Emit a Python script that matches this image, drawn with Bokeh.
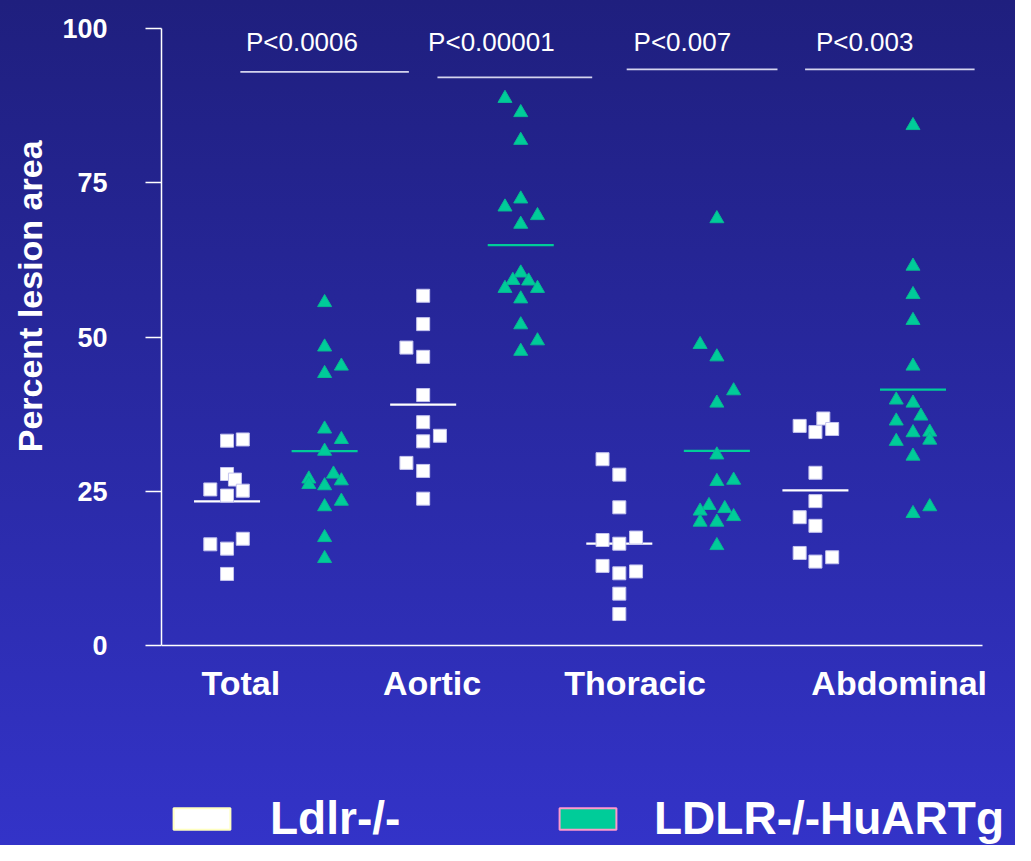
import numpy as np
from bokeh.plotting import figure
from bokeh.models import (ColumnDataSource, FixedTicker, Range1d, Legend,
                          LegendItem, Label)
from bokeh.core.properties import value
from bokeh.embed import file_html
from bokeh.resources import INLINE

# ------------------------------------------------------------------ data
categories = ["Total", "Aortic", "Thoracic", "Abdominal"]
series_names = ["Ldlr-/-", "LDLR-/-HuARTg"]

# Percent lesion area, Ldlr-/- mice (white squares)
ldlr_total = [33.2, 33.4, 27.8, 26.9, 25.3, 25.1, 24.3, 16.4, 15.7, 17.3, 11.6]
ldlr_aortic = [56.7, 52.1, 48.3, 46.8, 40.6, 36.2, 34.0, 33.1, 29.6, 28.3, 23.8]
ldlr_thoracic = [30.2, 27.7, 22.4, 17.1, 16.5, 17.5, 12.9, 11.7, 12.0, 8.4, 5.1]
ldlr_abdominal = [35.6, 36.8, 34.6, 35.1, 28.0, 23.4, 20.8, 19.4, 15.0, 13.6, 14.3]

# Percent lesion area, LDLR-/-HuARTg mice (green triangles)
huart_total = [55.6, 48.4, 45.3, 44.1, 35.1, 33.4, 31.5, 27.8, 27.0, 26.1,
               25.9, 26.7, 22.5, 23.4, 17.5, 14.1]
huart_aortic = [88.7, 86.4, 81.9, 72.4, 71.1, 69.7, 68.3, 60.4, 59.2, 59.1,
                57.9, 57.9, 56.2, 52.0, 49.4, 47.7]
huart_thoracic = [69.2, 48.8, 46.8, 41.3, 39.3, 30.9, 26.6, 26.8, 22.7, 21.8,
                  22.2, 20.9, 20.0, 20.0, 16.2]
huart_abdominal = [84.3, 61.5, 56.9, 52.7, 45.3, 39.8, 39.3, 36.4, 37.2, 34.5,
                   34.6, 33.3, 33.1, 30.7, 22.5, 21.4]

p_values = ["P<0.0006", "P<0.00001", "P<0.007", "P<0.003"]
y_ticks = [0, 25, 50, 75, 100]

# ------------------------------------------------------------ layout
# horizontal jitter of each dot (fraction of a slot), same order as data
ldlr_jitter = [
    [0, 0.16, 0, 0.08, -0.17, 0.16, 0, -0.17, 0, 0.16, 0],
    [0, 0, -0.17, 0, 0, 0, 0.17, 0, -0.17, 0, 0],
    [-0.17, 0, 0, -0.17, 0, 0.17, -0.17, 0, 0.17, 0, 0],
    [-0.16, 0.08, 0, 0.17, 0, 0, -0.16, 0, -0.16, 0, 0.17],
]
huart_jitter = [
    [0, 0, 0.17, 0, 0, 0.17, 0, 0.09, -0.16, -0.16, 0, 0.17, 0, 0.17, 0, 0],
    [-0.16, 0, 0, 0, -0.16, 0.17, 0, 0, -0.08, 0.08, -0.16, 0.17, 0, 0, 0.17, 0],
    [0, -0.17, 0, 0.17, 0, 0, 0, 0.17, -0.08, -0.17, 0.08, 0.17, -0.17, 0, 0],
    [0, 0, 0, 0, 0, -0.17, 0, -0.17, 0.08, 0, 0.17, 0.17, -0.17, 0, 0.17, 0],
]

SLOT0, CAT_STEP, SERIES_STEP, MEAN_HALF = 0.665, 1.99, 0.99, 0.335
X_AXIS_END = 8.33
cat_label_x = [0.805, 2.745, 4.805, 7.485]
p_text_x = [1.425, 3.347, 5.285, 7.135]
P_TEXT_Y = 97.9
p_line_x0 = [0.80, 2.80, 4.72, 6.53]
p_line_x1 = [2.51, 4.37, 6.25, 8.25]
p_line_y = [93.0, 92.1, 93.4, 93.4]

FONT = "Liberation Sans"
WHITE = "#ffffff"
GREEN = "#00cc99"

ldlr_data = [ldlr_total, ldlr_aortic, ldlr_thoracic, ldlr_abdominal]
huart_data = [huart_total, huart_aortic, huart_thoracic, huart_abdominal]


def build(series_data, jitter, s):
    xs, ys, mx0, mx1, my = [], [], [], [], []
    for i, (vals, jit) in enumerate(zip(series_data, jitter)):
        cx = SLOT0 + CAT_STEP * i + SERIES_STEP * s
        xs += [cx + j for j in jit]
        ys += list(vals)
        mx0.append(cx - MEAN_HALF)
        mx1.append(cx + MEAN_HALF)
        my.append(float(np.mean(vals)))
    pts = ColumnDataSource(dict(x=xs, y=ys))
    means = ColumnDataSource(dict(x0=mx0, x1=mx1, y=my))
    return pts, means


ldlr_pts, ldlr_means = build(ldlr_data, ldlr_jitter, 0)
huart_pts, huart_means = build(huart_data, huart_jitter, 1)

# ------------------------------------------------------------ figure
# The plot frame runs to the bottom and right edges; the x axis sits at
# y = 0 so the category names and the legend below it stay inside the frame.
p = figure(width=1015, height=845, output_backend="svg", toolbar_location=None,
           title=None, x_range=Range1d(0, 8.665), y_range=Range1d(-32.43, 104.57),
           min_border_left=161, min_border_right=0, min_border_top=0,
           min_border_bottom=0)
p.background_fill_color = None
p.border_fill_color = None
p.outline_line_color = None
p.styles = {"background": "linear-gradient(to bottom, #1f1f7e 0%, #3333c8 100%)"}
p.xgrid.grid_line_color = None
p.ygrid.grid_line_color = None

# y axis
ya = p.yaxis[0]
ya.ticker = FixedTicker(ticks=y_ticks, minor_ticks=[])
ya.bounds = (0, 100)
ya.axis_line_color = WHITE
ya.axis_line_width = 1.5
ya.major_tick_line_color = WHITE
ya.major_tick_line_width = 1.5
ya.major_tick_out = 16
ya.major_tick_in = 0
ya.minor_tick_line_color = None
ya.major_label_standoff = 38
ya.major_label_text_font = FONT
ya.major_label_text_font_size = "27px"
ya.major_label_text_font_style = "bold"
ya.major_label_text_color = WHITE

# x axis (category names), drawn at y = 0
xa = p.xaxis[0]
xa.fixed_location = 0
xa.bounds = (0, X_AXIS_END)
xa.ticker = FixedTicker(ticks=cat_label_x, minor_ticks=[])
xa.major_label_overrides = {x: c for x, c in zip(cat_label_x, categories)}
xa.axis_line_color = WHITE
xa.axis_line_width = 1.5
xa.major_tick_line_color = None
xa.minor_tick_line_color = None
xa.major_tick_out = 0
xa.major_tick_in = 0
xa.major_label_standoff = 19
xa.major_label_text_font = FONT
xa.major_label_text_font_size = "34px"
xa.major_label_text_font_style = "bold"
xa.major_label_text_color = WHITE

# y axis title (in the left side panel, so it is not clipped by the frame)
p.add_layout(Label(x=-1.33, y=56.6, text="Percent lesion area", angle=np.pi / 2,
                   text_align="center", text_baseline="middle", text_font=FONT,
                   text_font_size="34px", text_font_style="bold",
                   text_color=WHITE), "left")

# P-value brackets
p.segment(x0=p_line_x0, x1=p_line_x1, y0=p_line_y, y1=p_line_y,
          line_color="#d4d4ee", line_width=1.6)
p.text(x=p_text_x, y=[P_TEXT_Y] * len(p_values), text=p_values,
       text_font=value(FONT), text_font_size="26px", text_color=WHITE,
       text_align="center", text_baseline="alphabetic")

# means
p.segment(x0="x0", x1="x1", y0="y", y1="y", source=ldlr_means,
          line_color=WHITE, line_width=2.2)
p.segment(x0="x0", x1="x1", y0="y", y1="y", source=huart_means,
          line_color=GREEN, line_width=2.2)

# points
p.scatter("x", "y", source=ldlr_pts, marker="square", size=13,
          fill_color=WHITE, line_color="#c4c4ee", line_width=1)
p.scatter("x", "y", source=huart_pts, marker="triangle", size=14,
          fill_color=GREEN, line_color="#06b893", line_width=1)

# legend swatches: hidden helper renderers that only supply the legend glyph
swatch_src = ColumnDataSource(dict(l=[0], r=[0], t=[0], b=[0]))
sw_ldlr = p.quad(left="l", right="r", top="t", bottom="b", source=swatch_src,
                 fill_color=WHITE, line_color="#ffffc0", line_width=2,
                 visible=False)
sw_huart = p.quad(left="l", right="r", top="t", bottom="b", source=swatch_src,
                  fill_color=GREEN, line_color="#ff99cc", line_width=2,
                  visible=False)


def make_legend(label, renderer, loc, standoff):
    return Legend(items=[LegendItem(label=label, renderers=[renderer])],
                  location=loc, orientation="horizontal",
                  glyph_width=71, glyph_height=27, label_height=56,
                  label_standoff=standoff, padding=0, margin=0, spacing=0,
                  border_line_color=None, background_fill_alpha=0,
                  inactive_fill_alpha=0, click_policy="none",
                  label_text_font=FONT, label_text_font_size="46px",
                  label_text_font_style="bold", label_text_color=WHITE)


p.add_layout(make_legend(series_names[0], sw_ldlr, (5, -1), 33))
p.add_layout(make_legend(series_names[1], sw_huart, (391, -1), 31))

open("out.html", "w").write(file_html(p, INLINE))
